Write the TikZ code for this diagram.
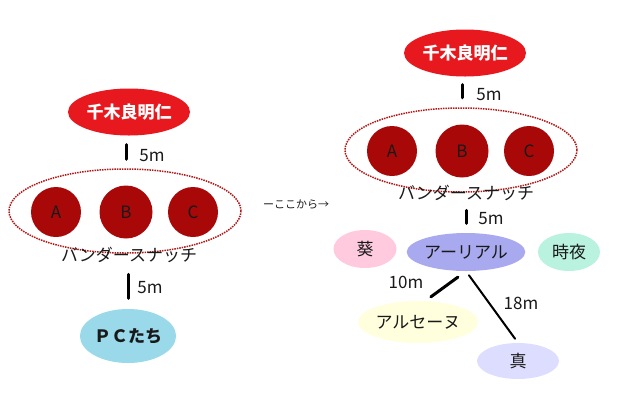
\documentclass[tikz,border=0pt]{standalone}
\usepackage{fontspec}
\setmainfont{Noto Sans CJK JP}
\usepackage{xcolor}
\usetikzlibrary{shapes,positioning,calc}

\definecolor{leaderred}{HTML}{E8191E}
\definecolor{memberred}{HTML}{A80808}
\definecolor{partyred}{HTML}{B01818}
\definecolor{pcblue}{HTML}{99D9EA}
\definecolor{aoipink}{HTML}{FFC9DE}
\definecolor{arialpurple}{HTML}{A9A9F0}
\definecolor{tokiyagreen}{HTML}{B9F2DE}
\definecolor{arseneyellow}{HTML}{FFFFDD}
\definecolor{makotolavender}{HTML}{DDDDFF}

\begin{document}
\begin{tikzpicture}[
    x=1pt, y=-1pt,
    every node/.style={font=\fontsize{17}{20}\selectfont, text=black!90},
    leader/.style={ellipse, fill=leaderred, text=white, inner sep=0pt, minimum width=122pt, minimum height=47pt, font=\fontsize{17}{20}\selectfont\bfseries},
    member/.style={circle, fill=memberred, inner sep=0pt, minimum size=50pt},
    party/.style={ellipse, draw=partyred, densely dotted, line width=1.5pt, minimum width=232pt, minimum height=84pt},
    pc/.style={ellipse, inner sep=0pt, minimum height=38pt},
    dist/.style={inner sep=0pt},
    link/.style={line width=3pt, line cap=round}
]
\useasboundingbox (0,0) rectangle (640,400);

% Left: before
\node[leader] (leaderL) at (129,112) {千木良明仁};
\node[party] (partyL) at (125,211) {};
\node[member] (aL) at (56,212) {A};
\node[member, minimum size=53pt] (bL) at (126,212) {B};
\node[member] (cL) at (193,212) {C};
\node (bandaL) at (129,255) {バンダースナッチ};
\node[pc, fill=pcblue, minimum width=82pt, minimum height=54pt, font=\fontsize{17}{20}\selectfont\bfseries] (pcL) at (128,336) {ＰＣたち};
\node[dist] (distL1) at (152,156) {5m};
\node[dist] (distL2) at (150,288) {5m};

% Middle
\node[font=\fontsize{11}{13}\selectfont] (here) at (296,205) {ーここから→};

% Right: after
\node[leader] (leaderR) at (465,53) {千木良明仁};
\node[party] (partyR) at (461,150) {};
\node[member] (aR) at (392,151) {A};
\node[member, minimum size=53pt] (bR) at (462,151) {B};
\node[member] (cR) at (529,151) {C};
\node (bandaR) at (466,193) {バンダースナッチ};
\node[pc, fill=aoipink, minimum width=63pt] (aoi) at (365,249) {葵};
\node[pc, fill=arialpurple, minimum width=116pt] (arial) at (466,252) {アーリアル};
\node[pc, fill=tokiyagreen, minimum width=62pt] (tokiya) at (569,252) {時夜};
\node[pc, fill=arseneyellow, minimum width=112pt, minimum height=42pt] (arsene) at (418,322) {アルセーヌ};
\node[pc, fill=makotolavender, minimum width=82pt, minimum height=36pt] (makoto) at (518,361) {真};
\node[dist] (distR1) at (489,95) {5m};
\node[dist] (distR2) at (491,219) {5m};
\node[dist] (dist10) at (406,282) {10m};
\node[dist] (dist18) at (521,303) {18m};

% Links
\draw[link, shorten <=9pt, shorten >=9pt] (leaderL.south -| bL) -- (partyL.north -| bL);
\draw[link, shorten <=20.5pt, shorten >=10.5pt] (partyL.south -| pcL) -- (pcL.north);
\draw[link, shorten <=8pt, shorten >=9.5pt] (leaderR.south -| bR) -- (partyR.north -| bR);
\draw[link, shorten <=17.5pt, shorten >=9.5pt] (partyR.south -| arial) -- (arial.north);
\draw[link, shorten <=10pt, shorten >=7pt] (arial.south) -- (arsene.71);
\draw[link, line width=2pt, shorten <=5pt, shorten >=5pt] (arial.south) -- (makoto.north);

\end{tikzpicture}
\end{document}
